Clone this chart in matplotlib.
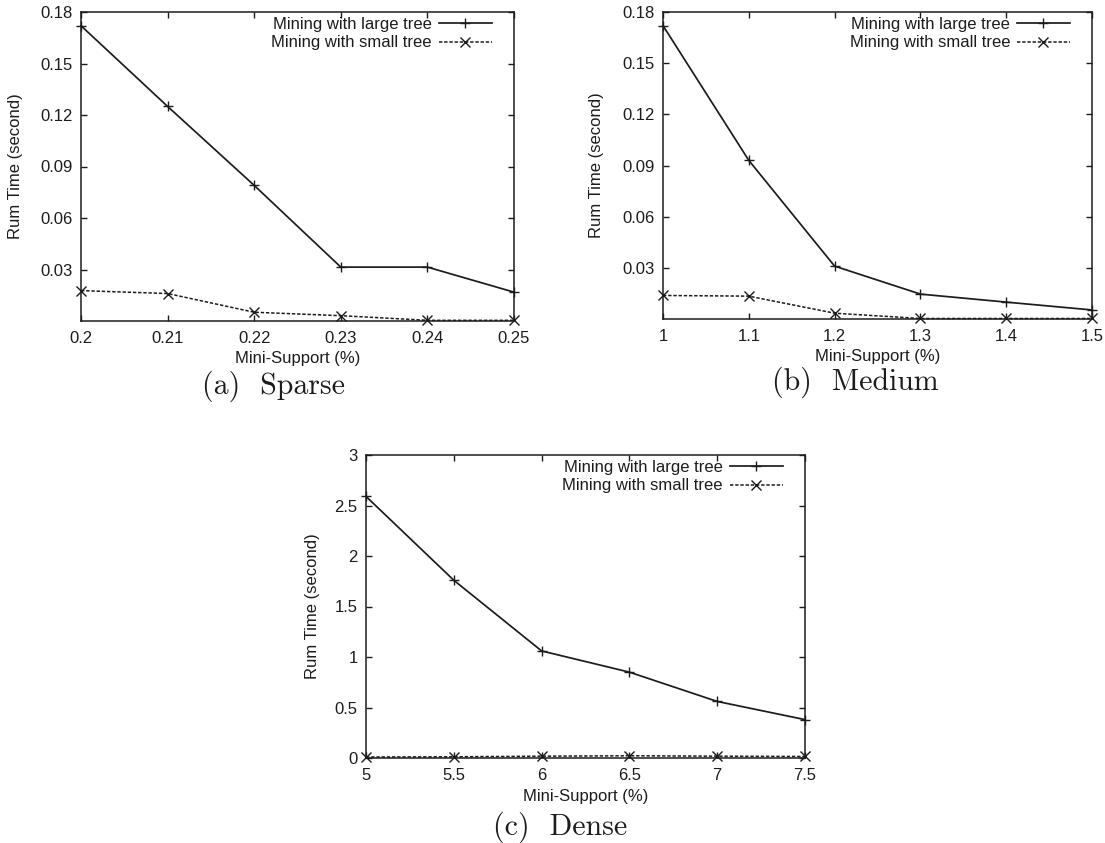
import numpy as np
import matplotlib
matplotlib.use('Agg')
import matplotlib.pyplot as plt

# ----------
# Run time vs. minimum support, three datasets

sparse_support = [0.20, 0.21, 0.22, 0.23, 0.24, 0.25]
sparse_large = [0.172, 0.125, 0.079, 0.0314, 0.0314, 0.0168]
sparse_small = [0.0177, 0.0160, 0.0051, 0.0031, 0.0004, 0.0004]

medium_support = [1.0, 1.1, 1.2, 1.3, 1.4, 1.5]
medium_large = [0.172, 0.093, 0.031, 0.0146, 0.0099, 0.0053]
medium_small = [0.0138, 0.0134, 0.0034, 0.0003, 0.0003, 0.0003]

dense_support = [5.0, 5.5, 6.0, 6.5, 7.0, 7.5]
dense_large = [2.59, 1.76, 1.06, 0.85, 0.56, 0.38]
dense_small = [0.010, 0.012, 0.018, 0.022, 0.018, 0.015]

sparse_yticks = [0.03, 0.06, 0.09, 0.12, 0.15, 0.18]
medium_yticks = [0.03, 0.06, 0.09, 0.12, 0.15, 0.18]
dense_yticks = [0, 0.5, 1, 1.5, 2, 2.5, 3]

series_names = ['Mining with large tree', 'Mining with small tree']
captions = ['(a)  Sparse', '(b)  Medium', '(c)  Dense']

# ----------

ink = '#1c1c1c'
matplotlib.rc('font', family='Liberation Sans', size=12)
matplotlib.rc('text', color=ink)
matplotlib.rc('axes', edgecolor=ink, linewidth=1.1, labelcolor=ink)
matplotlib.rc('xtick', direction='in', top=True, color=ink, labelcolor=ink)
matplotlib.rc('ytick', direction='in', right=True, color=ink, labelcolor=ink)
matplotlib.rc('xtick.major', size=4, width=1, pad=7)
matplotlib.rc('ytick.major', size=4, width=1, pad=6)

W, H = 1105.0, 843.0
fig = plt.figure(figsize=(11.05, 8.43), dpi=100, facecolor='white')


def panel(box, x, large, small, yticks, ylim, ylab_x, caption, cap_xy):
    l, t, r, b = box
    ax = fig.add_axes([l / W, 1 - b / H, (r - l) / W, (b - t) / H])
    ax.plot(x, large, color=ink, lw=1.25, marker='+', ms=7, mew=1.0,
            clip_on=False, label=series_names[0])
    ax.plot(x, small, color=ink, lw=1.1, marker='x', ms=6.5, mew=1.0,
            dashes=(2.2, 1.2), clip_on=False, label=series_names[1])
    ax.set_xlim(x[0], x[-1])
    ax.set_ylim(*ylim)
    ax.set_xticks(x)
    ax.set_xticklabels(['%g' % v for v in x])
    ax.set_yticks(yticks)
    ax.set_yticklabels(['%g' % v for v in yticks])
    ax.set_xlabel('Mini-Support (%)', fontsize=12, va='center')
    ax.set_ylabel('Rum Time (second)', fontsize=12, va='center')
    ax.xaxis.set_label_coords(0.5, -38 / (b - t))
    ax.yaxis.set_label_coords(-ylab_x / (r - l), 0.5)

    leg = ax.legend(loc='upper right', frameon=False, markerfirst=False,
                    numpoints=1, handlelength=3.2, handletextpad=0.4,
                    labelspacing=0.2, borderpad=0, borderaxespad=0,
                    bbox_to_anchor=(1 - 22 / (r - l), 1 - 5 / (b - t)),
                    fontsize=12)
    for txt in leg.get_texts():
        txt.set_color(ink)

    fig.text(cap_xy[0] / W, 1 - cap_xy[1] / H, caption, family='cmr10',
             size=21.5, ha='center', va='center', color=ink)
    return ax


panel((81, 12, 514, 321), sparse_support, sparse_large, sparse_small,
      sparse_yticks, (0, 0.18), 65, captions[0], (273, 386))
panel((663, 12, 1092, 319), medium_support, medium_large, medium_small,
      medium_yticks, (0, 0.18), 66, captions[1], (855, 382))
panel((366, 455, 805, 758), dense_support, dense_large, dense_small,
      dense_yticks, (0, 3), 53, captions[2], (560, 827))

fig.savefig('out.png', dpi=100, facecolor='white')
